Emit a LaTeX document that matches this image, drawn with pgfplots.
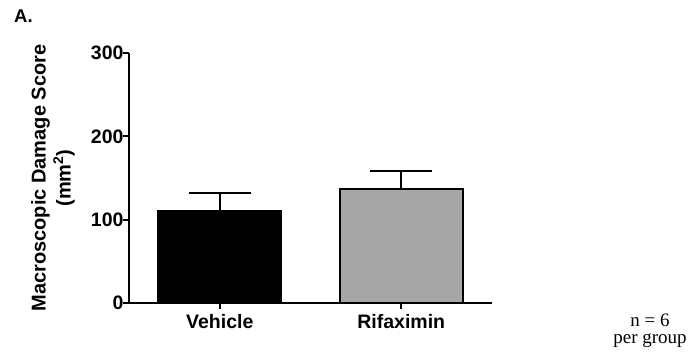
\documentclass[border=0pt]{standalone}
\usepackage{pgfplots}
\pgfplotsset{compat=1.18}
\usepackage{fontspec}
\setmainfont{Liberation Sans}
\newfontfamily\seriffont{Liberation Serif}
\definecolor{bargray}{RGB}{166,166,166}
\begin{document}
\begin{tikzpicture}[x=1pt,y=1pt]
\useasboundingbox (0,0) rectangle (688,353);
\node[anchor=north west, font=\bfseries\fontsize{18.5}{20}\selectfont, inner sep=0pt] at (14,343) {A.};
\begin{axis}[
  at={(129pt,50pt)}, anchor=south west,
  scale only axis, width=363pt, height=250pt,
  xmin=-0.5, xmax=1.5, ymin=0, ymax=300,
  axis x line*=bottom, axis y line*=left,
  axis line style={line width=2pt, -},
  ytick={0,100,200,300}, xtick={0,1}, xticklabels={Vehicle,Rifaximin},
  tick align=outside, major tick length=6pt, tick style={line width=2pt, black},
  ticklabel style={font=\bfseries\fontsize{19.5}{20}\selectfont},
  yticklabel style={xshift=4pt},
  xticklabel style={yshift=-2pt},
  /pgf/number format/assume math mode=true,
  ylabel={Macroscopic Damage Score\\(mm\textsuperscript{2})},
  ylabel style={at={(axis description cs:-0.2095,0.5)}, anchor=center, align=center, font=\bfseries\fontsize{20}{25}\selectfont},
  ybar, bar width=123pt, bar shift=0pt,
  error bars/y dir=plus, error bars/y explicit,
  error bars/error bar style={line width=2pt, black},
  error bars/error mark options={rotate=90, mark size=31pt, line width=2pt, black},
  clip=false,
]
\addplot[fill=black, draw=black, line width=2pt] coordinates {(0,110) +- (0,22)};
\addplot[fill=bargray, draw=black, line width=2pt] coordinates {(1,137) +- (0,21)};
\end{axis}
\node[font=\seriffont\fontsize{19}{20}\selectfont] at (650,33) {n = 6};
\node[font=\seriffont\fontsize{19}{20}\selectfont] at (650,12) {per group};
\end{tikzpicture}
\end{document}
